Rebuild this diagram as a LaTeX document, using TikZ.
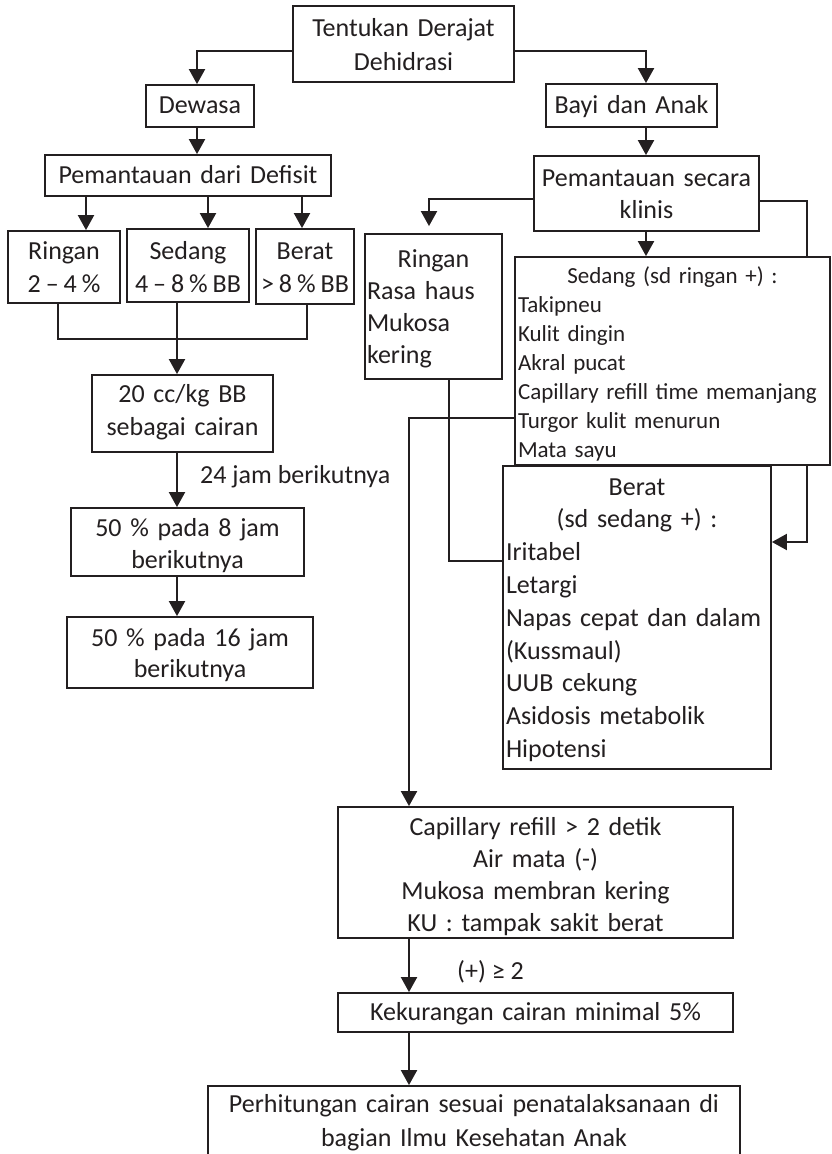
\documentclass[tikz,border=0pt]{standalone}
\usepackage{fontspec}
\setmainfont{Carlito}
\usetikzlibrary{arrows.meta,backgrounds}
\definecolor{ink}{RGB}{35,31,32}
% narrow word space for the small range boxes
\newcommand\nsp{\hspace{0.19em}}
\begin{document}
\begin{tikzpicture}[x=1pt,y=-1pt,
  every node/.style={text=ink},
  bx/.style={draw=ink,line width=1.8pt,fill=white,inner sep=0pt,anchor=base,
    align=center,font=\fontsize{26}{33}\selectfont},
  lst/.style={bx,align=left},
  conn/.style={draw=ink,line width=2pt},
  arr/.style={conn,-{Triangle[length=15pt,width=16pt]}},
  note/.style={inner sep=0pt,anchor=base west,font=\fontsize{26}{33}\selectfont}]
\useasboundingbox (0,0) rectangle (831,1154);
\clip (0,0) rectangle (831,1154);

% ---- top ----
\node[bx,text width=221pt,text height=30pt,text depth=46pt,font=\fontsize{26}{34}\selectfont]
  (T) at (403.5,36) {Tentukan Derajat\\Dehidrasi};

% ---- adult branch ----
\node[bx,text width=108pt,text height=28pt,text depth=14pt] (Dew) at (200,113) {Dewasa};
\node[bx,text width=286pt,text height=28pt,text depth=13pt] (PDD) at (188,183) {Pemantauan dari Defisit};
\node[bx,text width=112pt,text height=28pt,text depth=44pt] (RL) at (64,259) {Ringan\\\mbox{2\nsp–\nsp4\nsp\%}};
\node[bx,text width=122pt,text height=30pt,text depth=43pt] (SL) at (188,259) {Sedang\\\mbox{4\nsp–\nsp8\nsp\%\nsp BB}};
\node[bx,text width=98pt,text height=30pt,text depth=45pt] (BL) at (305,259) {Berat\\\mbox{>\nsp8\nsp\%\nsp BB}};
\node[bx,text width=181pt,text height=27pt,text depth=50pt] (cc20) at (182.5,402) {20 cc/kg BB\\sebagai cairan};
\node[note] (lbl24) at (200,483) {24 jam berikutnya};
\node[bx,text width=233pt,text height=28pt,text depth=40pt,font=\fontsize{26}{32}\selectfont]
  (p8) at (187.5,536) {50 \% pada 8 jam\\berikutnya};
\node[bx,text width=246pt,text height=29pt,text depth=42pt,font=\fontsize{26}{31}\selectfont]
  (p16) at (190,646) {50 \% pada 16 jam\\berikutnya};

% ---- child branch ----
\node[bx,text width=171pt,text height=29pt,text depth=14pt] (Bayi) at (631.5,113) {Bayi dan Anak};
\node[bx,text width=225pt,text height=30pt,text depth=45pt,font=\fontsize{26}{32}\selectfont]
  (PSK) at (646.5,186) {Pemantauan secara\\klinis};
\node[lst,inner xsep=2pt,text width=133pt,text height=33pt,text depth=112pt,font=\fontsize{26}{32}\selectfont]
  (RR) at (433.5,267) {\makebox[\linewidth]{Ringan}\\Rasa haus\\Mukosa\\kering};
\node[lst,inner xsep=3pt,text width=309pt,text height=26pt,text depth=182pt,font=\fontsize{23}{29}\selectfont]
  (SR) at (672.5,283) {\makebox[\linewidth]{Sedang (sd ringan +) :}\\Takipneu\\Kulit dingin\\Akral pucat\\
    Capillary refill time memanjang\\Turgor kulit menurun\\Mata sayu};
\node[lst,inner xsep=3pt,text width=262pt,text height=29pt,text depth=274pt,font=\fontsize{26}{32.8}\selectfont]
  (BR) at (637,495) {\makebox[\linewidth]{Berat}\\\makebox[\linewidth]{(sd sedang +) :}\\Iritabel\\Letargi\\
    \makebox[\linewidth][s]{Napas cepat dan dalam}\\(Kussmaul)\\UUB cekung\\Asidosis metabolik\\Hipotensi};

% ---- common end ----
\node[bx,text width=395pt,text height=28pt,text depth=103pt,font=\fontsize{26}{32.3}\selectfont]
  (Cap) at (535.5,835) {Capillary refill > 2 detik\\Air mata (-)\\Mukosa membran kering\\KU : tampak sakit berat};
\node[note] (lblge) at (457,979) {(+) ≥ 2};
\node[bx,text width=395pt,text height=27pt,text depth=12pt] (Kek) at (535.5,1020) {Kekurangan cairan minimal 5\%};
\node[bx,text width=532pt,text height=26pt,text depth=58pt,font=\fontsize{26}{34}\selectfont]
  (Bot) at (474,1112) {Perhitungan cairan sesuai penatalaksanaan di\\bagian Ilmu Kesehatan Anak};

% ---- connectors, drawn beneath the boxes ----
\begin{pgfonlayer}{background}
  \coordinate (dL) at ([xshift=-3pt]Dew.north);
  \draw[arr] ([yshift=-7pt]T.west) -| (dL);
  \draw[arr] (dL |- Dew.south) -- (dL |- PDD.north);
  \coordinate (d1) at ([xshift=22pt]RL.north);
  \coordinate (d2) at ([xshift=20pt]SL.north);
  \coordinate (d3) at ([xshift=-3pt]BL.north);
  \draw[arr] (d1 |- PDD.south) -- (d1);
  \draw[arr] (d2 |- PDD.south) -- (d2);
  \draw[arr] (d3 |- PDD.south) -- (d3);
  \coordinate (mL) at ([xshift=-6pt]RL.south);
  \coordinate (mR) at ([xshift=2pt]BL.south);
  \draw[conn] (mL) -- ++(0,35) -| (mR);
  \coordinate (sd) at ([xshift=-11pt]SL.south);
  \draw[arr] (sd) -- (sd |- cc20.north);
  \draw[arr] (sd |- cc20.south) -- (sd |- p8.north);
  \draw[arr] (sd |- p8.south) -- (sd |- p16.north);

  \coordinate (dR) at ([xshift=14.5pt]Bayi.north);
  \draw[arr] ([yshift=-7pt]T.east) -| (dR);
  \draw[arr] (dR |- Bayi.south) -- (dR |- PSK.north);
  \draw[arr] (dR |- PSK.south) -- (dR |- SR.north);
  \coordinate (rr) at ([xshift=-4.5pt]RR.north);
  \draw[arr,shorten >=7pt] ([yshift=-5.5pt]PSK.west) -| (rr);
  \coordinate (bin) at ([yshift=75.5pt]BR.east);
  \draw[arr] ([yshift=-7.5pt]PSK.east) -- ++(47,0) |- (bin);
  \coordinate (rdown) at ([xshift=15.5pt]RR.south);
  \draw[conn] (rdown) |- ([yshift=56.5pt]BR.west);
  \coordinate (cd) at ([xshift=-126.5pt]Cap.north);
  \draw[arr] ([yshift=-57pt]SR.west) -| (cd);
  \draw[arr] (cd |- Cap.south) -- (cd |- Kek.north);
  \draw[arr] (cd |- Kek.south) -- (cd |- Bot.north);
\end{pgfonlayer}
\end{tikzpicture}
\end{document}
